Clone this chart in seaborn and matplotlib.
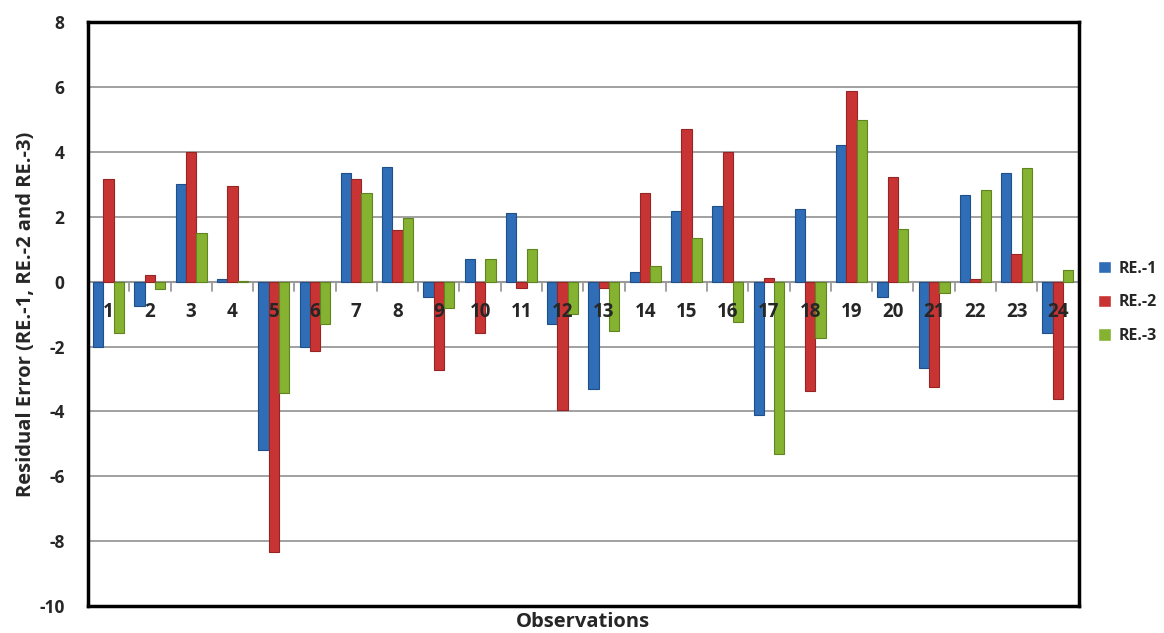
import numpy as np
import pandas as pd
import matplotlib
matplotlib.use('Agg')
import matplotlib.pyplot as plt
import seaborn as sns

observations = [str(i) for i in range(1, 25)]
re1 = [-2.0, -0.75, 3.0, 0.09, -5.19, -2.02, 3.34, 3.55, -0.46, 0.70, 2.12, -1.30,
       -3.30, 0.31, 2.18, 2.34, -4.12, 2.23, 4.22, -0.46, -2.65, 2.67, 3.34, -1.57]
re2 = [3.17, 0.20, 4.00, 2.94, -8.34, -2.15, 3.17, 1.58, -2.72, -1.57, -0.18, -3.96,
       -0.19, 2.73, 4.72, 4.00, 0.10, -3.37, 5.87, 3.22, -3.26, 0.08, 0.86, -3.63]
re3 = [-1.57, -0.23, 1.51, 0.03, -3.42, -1.30, 2.73, 1.96, -0.80, 0.70, 1.02, -0.99,
       -1.52, 0.48, 1.36, -1.25, -5.31, -1.73, 4.98, 1.63, -0.35, 2.84, 3.50, 0.36]
series_names = ['RE.-1', 'RE.-2', 'RE.-3']
colors = ['#2f6db6', '#c83434', '#86b232']
edge_colors = ['#1f4f8a', '#962424', '#5f8420']

df = pd.DataFrame({'Observation': observations * 3,
                   'Residual': re1 + re2 + re3,
                   'Series': np.repeat(series_names, len(observations))})

sns.set_style('white')
plt.rcParams['font.family'] = ['Open Sans', 'DejaVu Sans']

fig = plt.figure(figsize=(11.64, 6.33), dpi=100)
ax = fig.add_axes([0.0756, 0.0425, 0.851, 0.9225])

sns.barplot(data=df, x='Observation', y='Residual', hue='Series', palette=colors,
            width=0.75, saturation=1, ax=ax, zorder=3)
# darker rim on each series, a bit like the bevelled bars
for cont, ec in zip(ax.containers, edge_colors):
    for bar in cont:
        bar.set_edgecolor(ec)
        bar.set_linewidth(0.8)

ax.set_ylim(-10, 8)
ax.set_xlim(-0.5, len(observations) - 0.5)
ax.set_yticks(range(-10, 9, 2))
ax.set_yticklabels([str(v) for v in range(-10, 9, 2)], fontsize=12.5, fontweight='bold')
ax.tick_params(axis='y', length=5, color='#888888', direction='out', pad=12)
ax.yaxis.grid(True, color='#9a9a9a', lw=1.3, zorder=0)

# category axis crossing at zero, labels just under it
ax.axhline(0, color='#9a9a9a', lw=1.5, zorder=2)
for b in np.arange(0.5, len(observations) - 0.5, 1):
    ax.plot([b, b], [0, -0.28], color='#9a9a9a', lw=1.3, zorder=2)
for i, lab in enumerate(observations):
    ax.text(i, -0.62, lab, ha='center', va='top', fontsize=13.5, fontweight='bold', zorder=4)

ax.set_xticks([])
ax.set_xlabel('Observations', fontsize=14.5, fontweight='bold', va='center')
ax.xaxis.set_label_coords(0.5, -0.028)
ax.set_ylabel('Residual Error (RE.-1, RE.-2 and RE.-3)', fontsize=14.5, fontweight='bold', labelpad=2)
for sp in ax.spines.values():
    sp.set_visible(True)
    sp.set_color('black')
    sp.set_linewidth(2.5)

handles, labels = ax.get_legend_handles_labels()
ax.legend(handles, labels, loc='center left', bbox_to_anchor=(1.005, 0.52), frameon=False,
          prop={'weight': 'bold', 'size': 11.5}, handlelength=0.8, handleheight=0.8,
          labelspacing=1.1, handletextpad=0.5)

fig.savefig('out.png', dpi=100)
